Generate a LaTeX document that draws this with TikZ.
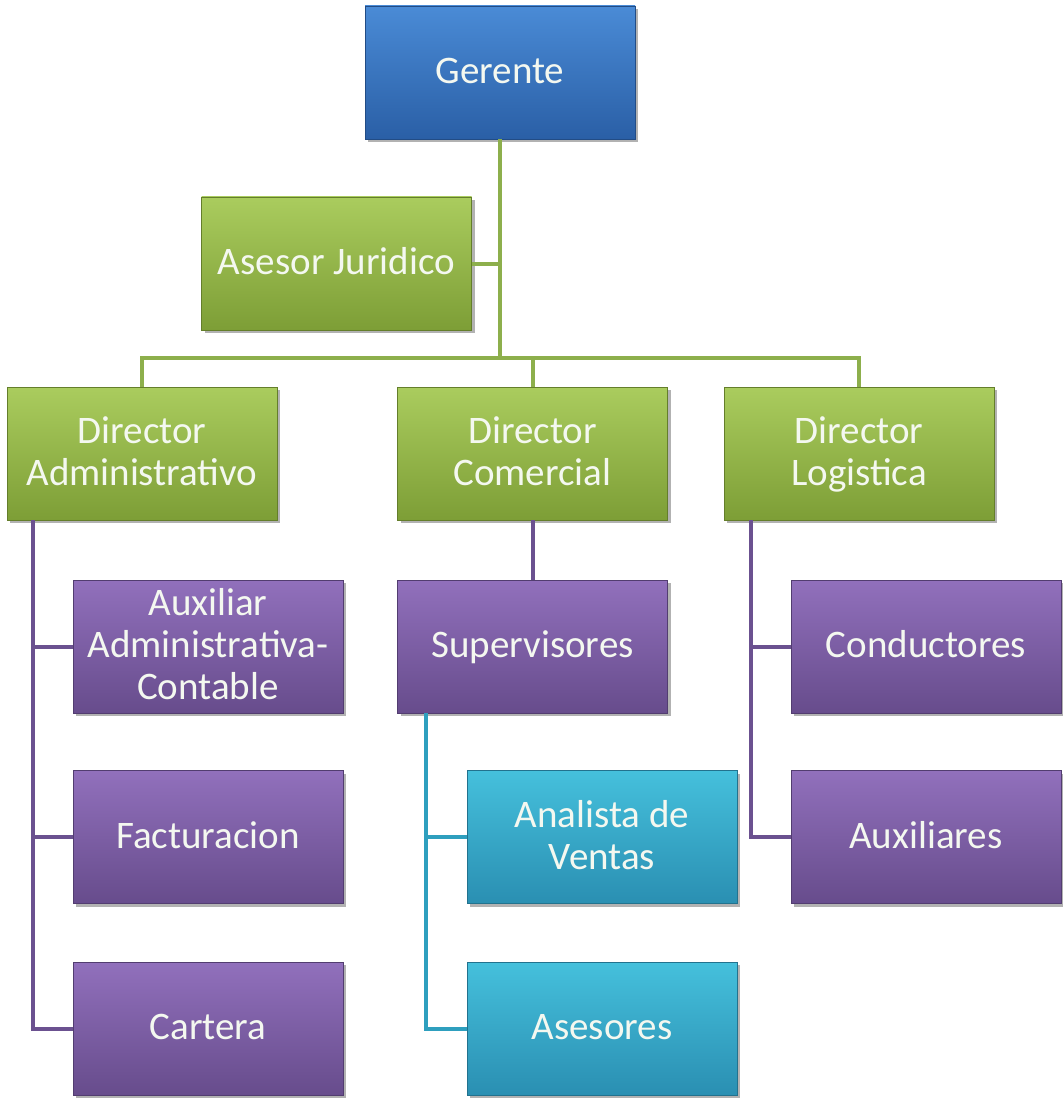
\documentclass[tikz,border=0pt]{standalone}
\usepackage{fontspec}
\setmainfont{Carlito}
\usetikzlibrary{shadows}
\definecolor{blueT}{HTML}{4A8BD6}
\definecolor{blueB}{HTML}{2A5FA6}
\definecolor{greenT}{HTML}{AACC5E}
\definecolor{greenB}{HTML}{7D9E36}
\definecolor{purpT}{HTML}{9170BC}
\definecolor{purpB}{HTML}{674C8C}
\definecolor{cyanT}{HTML}{45C0DC}
\definecolor{cyanB}{HTML}{2A8FB2}
\definecolor{gline}{HTML}{8DAF4C}
\definecolor{pline}{HTML}{6B5190}
\definecolor{cline}{HTML}{2E9FBE}
\definecolor{txt}{HTML}{F4F8F0}
\newcommand{\lst}{\rule[-10pt]{0pt}{42pt}}
\begin{document}
\begin{tikzpicture}[x=1pt,y=-1pt,
  box/.style={rectangle, minimum width=270pt, minimum height=133pt, inner sep=0pt,
    align=center, text=txt, font=\fontsize{39}{42}\selectfont,
    line width=0.8pt,
    drop shadow={shadow xshift=3pt, shadow yshift=-3pt, fill=black, opacity=0.3}},
  bluebox/.style={box, top color=blueT, bottom color=blueB, draw=blueB!80!black},
  greenbox/.style={box, top color=greenT, bottom color=greenB, draw=greenB!80!black},
  purpbox/.style={box, top color=purpT, bottom color=purpB, draw=purpB!80!black},
  cyanbox/.style={box, top color=cyanT, bottom color=cyanB, draw=cyanB!80!black},
  glink/.style={draw=gline, line width=4pt},
  plink/.style={draw=pline, line width=4pt},
  clink/.style={draw=cline, line width=4pt}]
\useasboundingbox[fill=white] (0,0) rectangle (1062,1099);

\node[bluebox]  (ger)  at (500,72.5)    {Gerente\lst};
\node[greenbox] (ase)  at (336.5,263.5) {Asesor Juridico\lst};
\node[greenbox] (dadm) at (142,453.5)   {Director\lst\\Administrativo\lst};
\node[greenbox] (dcom) at (532.5,453.5) {Director\lst\\Comercial\lst};
\node[greenbox] (dlog) at (859,453.5)   {Director\lst\\Logistica\lst};
\node[purpbox]  (aux)  at (208,646.5)   {Auxiliar\lst\\Administrativa-\lst\\Contable\lst};
\node[purpbox]  (sup)  at (532.5,646.5) {Supervisores\lst};
\node[purpbox]  (cond) at (926,646.5)   {Conductores\lst};
\node[purpbox]  (fac)  at (208,837)     {Facturacion\lst};
\node[cyanbox]  (ana)  at (602,837)     {Analista de\lst\\Ventas\lst};
\node[purpbox]  (auxs) at (926,837)     {Auxiliares\lst};
\node[purpbox]  (cart) at (208,1028.5)  {Cartera\lst};
\node[cyanbox]  (ases) at (602,1028.5)  {Asesores\lst};

\coordinate (bj) at (500,358);
\draw[glink] (ger.south) -- (bj);
\draw[glink] (ase.east) -- (ase.east -| bj);
\draw[glink] (dadm.north) |- (bj) -| (dlog.north);
\draw[glink] (dcom.north) -- (dcom.north |- bj);

\coordinate (ta) at ([xshift=26pt]dadm.south west);
\draw[plink] (ta) |- (cart.west);
\draw[plink] (aux.west) -- (aux.west -| ta);
\draw[plink] (fac.west) -- (fac.west -| ta);

\draw[plink] (dcom.south) -- (sup.north);

\coordinate (ts) at ([xshift=29pt]sup.south west);
\draw[clink] (ts) |- (ases.west);
\draw[clink] (ana.west) -- (ana.west -| ts);

\coordinate (tl) at ([xshift=27pt]dlog.south west);
\draw[plink] (tl) |- (auxs.west);
\draw[plink] (cond.west) -- (cond.west -| tl);
\end{tikzpicture}
\end{document}
